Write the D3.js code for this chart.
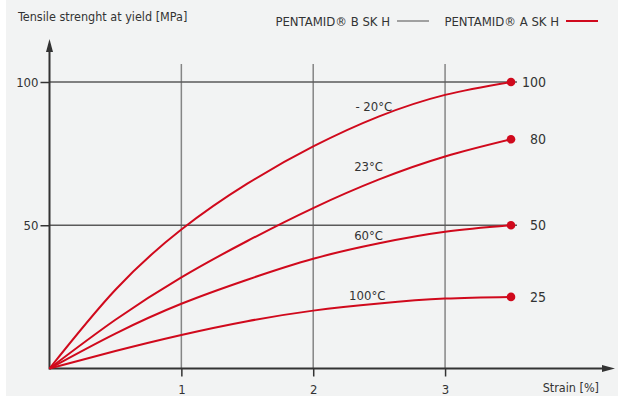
<!DOCTYPE html>
<html>
<head>
<meta charset="utf-8">
<script src="https://cdn.jsdelivr.net/npm/d3@7/dist/d3.min.js"></script>
<style>
  html, body { margin: 0; padding: 0; background: #ffffff; }
  svg { display: block; }
  text { font-family: "Liberation Sans Narrow", "DejaVu Sans Condensed", "Roboto", sans-serif; fill: #333; }
</style>
</head>
<body>
<svg id="chart" width="618" height="396"></svg>
<script>
// Strain sample points [%]
const strain = [0, 0.5, 1, 1.5, 2, 2.5, 3, 3.5];

// Tensile strength at yield [MPa] for PENTAMID® A SK H at each temperature
const tempLabels = ["- 20°C", "23°C", "60°C", "100°C"];
const stressM20  = [0, 27.5, 48.5, 64.5, 77.5, 88, 95.5, 100];
const stress23   = [0, 17, 31.8, 44.5, 56, 66, 74, 80];
const stress60   = [0, 12.2, 22.6, 31, 38.3, 43.7, 47.7, 50];
const stress100  = [0, 6.1, 11.7, 16.5, 20.2, 22.7, 24.4, 25];

// Where each temperature label sits (strain, stress)
const labelStrain = [2.46, 2.42, 2.42, 2.41];
const labelStress = [91.5, 70.5, 46.5, 25.5];

const xTicks = [1, 2, 3];
const yTicks = [50, 100];
const legendNames = ["PENTAMID® B SK H", "PENTAMID® A SK H"];

const series = [stressM20, stress23, stress60, stress100];
const RED = "#d0091c";

const svg = d3.select("#chart");

// panel background with a thin white margin on the left
svg.append("rect").attr("x", 0).attr("y", 0).attr("width", 618).attr("height", 396).attr("fill", "#ffffff");
svg.append("rect").attr("x", 6).attr("y", 0).attr("width", 612).attr("height", 396).attr("fill", "#f2f3f3");

const x = d3.scaleLinear().domain([0, 3.5]).range([49.5, 511]);
const y = d3.scaleLinear().domain([0, 100]).range([368.5, 82]);

// vertical grid lines
svg.append("g").selectAll("line").data(xTicks).join("line")
  .attr("x1", d => x(d)).attr("x2", d => x(d))
  .attr("y1", 64).attr("y2", y(0))
  .attr("stroke", "#858585").attr("stroke-width", 1.5);

// horizontal grid lines
svg.append("g").selectAll("line").data(yTicks).join("line")
  .attr("x1", x(0)).attr("x2", 517)
  .attr("y1", d => y(d)).attr("y2", d => y(d))
  .attr("stroke", "#5a5a5a").attr("stroke-width", 1.5);

// x axis
const xAxis = svg.append("g")
  .attr("transform", `translate(0,${y(0)})`)
  .call(d3.axisBottom(x).tickValues(xTicks).tickSize(8).tickPadding(8).tickFormat(d3.format("d")));
xAxis.select(".domain").remove();
xAxis.selectAll(".tick line").attr("stroke", "#333").attr("stroke-width", 1.5);
xAxis.selectAll(".tick text").attr("font-size", 13).attr("fill", "#333")
  .attr("font-family", "Liberation Sans Narrow, DejaVu Sans Condensed, sans-serif");

// y axis
const yAxis = svg.append("g")
  .attr("transform", `translate(${x(0)},0)`)
  .call(d3.axisLeft(y).tickValues(yTicks).tickSize(9).tickPadding(2).tickFormat(d3.format("d")));
yAxis.select(".domain").remove();
yAxis.selectAll(".tick line").attr("stroke", "#333").attr("stroke-width", 1.5);
yAxis.selectAll(".tick text").attr("font-size", 13).attr("fill", "#333")
  .attr("font-family", "Liberation Sans Narrow, DejaVu Sans Condensed, sans-serif");

// axis lines with arrow heads
svg.append("line").attr("x1", x(0)).attr("x2", 604).attr("y1", y(0)).attr("y2", y(0))
  .attr("stroke", "#333").attr("stroke-width", 2);
svg.append("path").attr("d", `M615,${y(0)} L602,${y(0) - 3.5} L602,${y(0) + 3.5} Z`).attr("fill", "#333");
svg.append("line").attr("x1", x(0)).attr("x2", x(0)).attr("y1", y(0) + 1).attr("y2", 50)
  .attr("stroke", "#333").attr("stroke-width", 2);
svg.append("path").attr("d", `M${x(0)},39 L${x(0) - 3.5},52 L${x(0) + 3.5},52 Z`).attr("fill", "#333");

// curves
const line = d3.line().x((d, i) => x(strain[i])).y(d => y(d)).curve(d3.curveNatural);
svg.append("g").selectAll("path").data(series).join("path")
  .attr("d", d => line(d))
  .attr("fill", "none").attr("stroke", RED).attr("stroke-width", 2);

// end points and their values
const last = strain.length - 1;
svg.append("g").selectAll("circle").data(series).join("circle")
  .attr("cx", x(strain[last])).attr("cy", d => y(d[last])).attr("r", 4.3).attr("fill", RED);
svg.append("g").selectAll("text").data(series).join("text")
  .attr("x", 546).attr("y", d => y(d[last])).attr("dy", "0.35em")
  .attr("text-anchor", "end").attr("font-size", 14)
  .text(d => d3.format("d")(d[last]));

// temperature labels
svg.append("g").selectAll("text").data(tempLabels).join("text")
  .attr("x", (d, i) => x(labelStrain[i])).attr("y", (d, i) => y(labelStress[i])).attr("dy", "0.35em")
  .attr("text-anchor", "middle").attr("font-size", 13)
  .text(d => d);

// axis titles
svg.append("text").attr("x", 18).attr("y", 17).attr("dy", "0.35em").attr("font-size", 12.5)
  .text("Tensile strenght at yield [MPa]");
svg.append("text").attr("x", 599).attr("y", 388).attr("dy", "0.35em").attr("text-anchor", "end").attr("font-size", 12.5)
  .text("Strain [%]");

// legend
const legendColors = ["#a0a0a0", RED];
const legendEnds = [390, 559];
legendNames.forEach((name, i) => {
  svg.append("text").attr("x", legendEnds[i]).attr("y", 21).attr("dy", "0.35em")
    .attr("text-anchor", "end").attr("font-size", 13).text(name);
  svg.append("line").attr("x1", legendEnds[i] + 7).attr("x2", legendEnds[i] + 39)
    .attr("y1", 21).attr("y2", 21).attr("stroke", legendColors[i]).attr("stroke-width", 2);
});
</script>
</body>
</html>
